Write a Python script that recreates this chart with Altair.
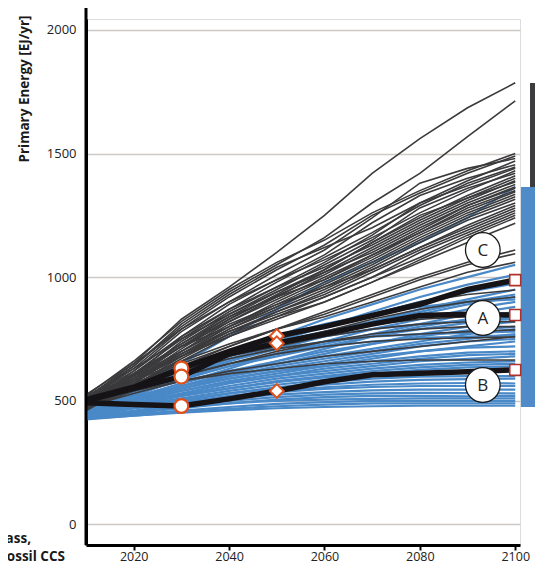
import altair as alt
import pandas as pd

years = [2010, 2020, 2030, 2040, 2050, 2060, 2070, 2080, 2090, 2100]

gray_lines = [
    [510, 650, 830, 960, 1100, 1250, 1420, 1560, 1685, 1786],
    [500, 640, 810, 940, 1050, 1160, 1300, 1420, 1568, 1713],
    [520, 660, 820, 950, 1060, 1150, 1260, 1350, 1430, 1500],
    [505, 630, 790, 920, 1030, 1130, 1250, 1340, 1420, 1490],
    [490, 620, 780, 900, 1010, 1110, 1240, 1380, 1440, 1480],
    [515, 640, 800, 930, 1040, 1120, 1200, 1300, 1390, 1470],
    [480, 600, 760, 890, 990, 1090, 1220, 1330, 1400, 1455],
    [500, 610, 750, 870, 980, 1080, 1180, 1290, 1380, 1445],
    [470, 590, 740, 860, 960, 1060, 1170, 1300, 1370, 1440],
    [525, 650, 790, 900, 990, 1070, 1160, 1260, 1350, 1430],
    [495, 605, 730, 850, 950, 1050, 1150, 1280, 1360, 1420],
    [485, 590, 720, 840, 940, 1030, 1140, 1240, 1330, 1410],
    [510, 620, 760, 870, 960, 1040, 1130, 1230, 1320, 1400],
    [460, 570, 700, 820, 920, 1020, 1120, 1220, 1310, 1390],
    [500, 600, 720, 830, 930, 1030, 1140, 1250, 1320, 1385],
    [475, 580, 710, 830, 925, 1010, 1110, 1210, 1300, 1375],
    [515, 630, 750, 850, 940, 1020, 1100, 1200, 1290, 1365],
    [490, 600, 720, 820, 910, 1000, 1090, 1190, 1290, 1360],
    [505, 610, 730, 840, 920, 990, 1080, 1180, 1280, 1350],
    [480, 570, 690, 800, 900, 990, 1090, 1180, 1270, 1345],
    [495, 590, 700, 810, 890, 980, 1070, 1170, 1260, 1335],
    [470, 560, 680, 790, 880, 970, 1060, 1160, 1250, 1325],
    [500, 600, 700, 800, 890, 960, 1050, 1150, 1240, 1315],
    [485, 580, 690, 790, 870, 950, 1040, 1140, 1230, 1300],
    [510, 610, 720, 800, 880, 960, 1030, 1120, 1210, 1290],
    [465, 560, 670, 770, 860, 940, 1030, 1120, 1200, 1280],
    [490, 580, 680, 780, 860, 930, 1020, 1110, 1190, 1270],
    [500, 590, 690, 780, 850, 920, 1000, 1100, 1180, 1260],
    [475, 560, 660, 760, 840, 920, 1000, 1080, 1170, 1250],
    [495, 580, 680, 770, 840, 900, 980, 1070, 1160, 1240],
    [505, 590, 680, 760, 830, 900, 980, 1060, 1140, 1218],
    [490, 570, 650, 720, 790, 860, 930, 1000, 1060, 1110],
    [470, 550, 640, 720, 790, 850, 920, 990, 1050, 1095],
    [500, 580, 660, 730, 790, 840, 900, 960, 1020, 1060],
    [495, 570, 640, 700, 750, 800, 850, 900, 930, 948],
    [480, 550, 620, 680, 730, 780, 830, 870, 900, 920],
    [505, 570, 630, 690, 740, 780, 810, 830, 840, 845],
    [490, 560, 620, 680, 720, 760, 790, 810, 820, 820],
    [470, 540, 600, 650, 700, 740, 770, 790, 800, 800],
    [500, 560, 620, 670, 710, 740, 760, 770, 780, 787],
    [485, 545, 600, 650, 690, 720, 740, 750, 755, 758],
    [475, 530, 580, 620, 650, 680, 700, 720, 740, 760],
    [495, 540, 580, 610, 630, 650, 660, 665, 665, 665],
]

blue_lines = [
    [470, 560, 650, 760, 870, 980, 1060, 1140, 1240, 1365],
    [455, 530, 610, 690, 760, 830, 890, 950, 1000, 1050],
    [470, 540, 610, 680, 740, 800, 860, 920, 970, 1010],
    [480, 550, 620, 690, 750, 800, 850, 900, 940, 975],
    [460, 520, 590, 660, 720, 770, 820, 870, 910, 950],
    [475, 540, 600, 660, 710, 760, 810, 850, 890, 920],
    [450, 510, 570, 630, 690, 740, 790, 830, 870, 900],
    [465, 525, 585, 640, 690, 730, 770, 810, 850, 880],
    [455, 510, 560, 610, 660, 710, 760, 800, 830, 860],
    [470, 530, 590, 640, 680, 720, 760, 790, 815, 840],
    [445, 500, 560, 610, 650, 690, 730, 770, 800, 820],
    [460, 515, 570, 620, 660, 700, 730, 760, 785, 800],
    [480, 530, 580, 620, 650, 680, 710, 740, 770, 790],
    [450, 500, 550, 600, 640, 670, 700, 730, 750, 770],
    [465, 510, 560, 600, 630, 660, 690, 720, 740, 750],
    [440, 490, 540, 580, 610, 640, 670, 700, 720, 740],
    [455, 500, 550, 590, 620, 650, 680, 700, 715, 720],
    [470, 510, 550, 590, 620, 640, 660, 680, 695, 700],
    [445, 490, 530, 570, 600, 630, 650, 670, 685, 690],
    [460, 500, 540, 575, 600, 620, 640, 660, 670, 680],
    [450, 490, 525, 560, 590, 610, 630, 645, 655, 660],
    [440, 480, 520, 550, 580, 600, 620, 635, 645, 650],
    [455, 490, 520, 550, 575, 595, 610, 625, 635, 640],
    [445, 480, 510, 540, 565, 585, 600, 610, 618, 620],
    [435, 470, 500, 530, 555, 575, 590, 598, 600, 600],
    [450, 480, 505, 530, 550, 565, 578, 585, 588, 590],
    [440, 470, 495, 520, 540, 555, 565, 570, 572, 570],
    [430, 460, 490, 515, 535, 548, 556, 560, 560, 560],
    [445, 470, 490, 510, 525, 535, 542, 545, 545, 545],
    [435, 460, 480, 500, 515, 525, 530, 532, 531, 530],
    [430, 450, 470, 490, 505, 515, 520, 520, 518, 520],
    [440, 455, 475, 490, 500, 505, 508, 510, 510, 510],
    [430, 445, 460, 475, 488, 495, 500, 500, 500, 500],
    [425, 440, 455, 468, 478, 485, 490, 490, 490, 490],
    [428, 440, 452, 462, 470, 475, 478, 480, 480, 480],
    [460, 530, 600, 670, 720, 760, 790, 810, 825, 830],
    [470, 540, 610, 670, 710, 740, 760, 770, 775, 780],
    [450, 520, 590, 650, 690, 720, 740, 755, 760, 765],
    [480, 560, 630, 690, 740, 780, 820, 860, 900, 930],
    [465, 540, 620, 700, 760, 810, 850, 880, 900, 910],
]

black_lines = [
    [505, 555, 631, 700, 762, 800, 845, 890, 950, 988],
    [500, 550, 598, 690, 733, 770, 810, 845, 850, 847],
    [492, 485, 479, 508, 540, 577, 605, 612, 618, 625],
]

circle_years = [2030, 2030, 2030]
circle_values = [631, 598, 479]
diamond_years = [2050, 2050, 2050]
diamond_values = [762, 733, 540]
square_years = [2100, 2100, 2100]
square_values = [988, 847, 625]

label_names = ["C", "A", "B"]
label_years = [2093.2, 2093.2, 2093.2]
label_values = [1110, 835, 564]

bar_names = ["gray", "blue"]
bar_x0 = [2103.1, 2101.2]
bar_x1 = [2106.5, 2104.95]
bar_low = [665, 475]
bar_high = [1785, 1365]

x_ticks = [2020, 2040, 2060, 2080, 2100]
y_ticks = [0, 500, 1000, 1500, 2000]

GRAY = "#3b3b3d"
BLUE = "#4a89c8"
BLACK = "#151316"
FONT = "Open Sans"

def long_df(lines, prefix):
    rows = []
    for i, vals in enumerate(lines):
        for yr, v in zip(years, vals):
            rows.append({"id": f"{prefix}{i}", "year": yr, "value": v})
    return pd.DataFrame(rows)

gray_df = long_df(gray_lines, "g")
blue_df = long_df(blue_lines, "b")
black_df = long_df(black_lines, "k")

xscale = alt.Scale(domain=[2010, 2101], nice=False, zero=False)
yscale = alt.Scale(domain=[-83, 2044], nice=False, zero=False)
xaxis = alt.Axis(values=x_ticks, title=None, grid=False, format="d",
                 domainColor="black", domainWidth=3, tickColor="black",
                 tickWidth=2, tickSize=5, labelPadding=0, labelFontSize=12.5,
                 labelFont=FONT, labelColor="#222222")
yaxis = alt.Axis(values=y_ticks, title=None, grid=True, gridColor="#cdcac6",
                 gridWidth=1.3, ticks=False, tickSize=0, domainColor="black",
                 domainWidth=3, labelPadding=10, labelFontSize=13, format="d",
                 labelFont=FONT, labelColor="#222222")

def X(field):
    return alt.X(field, type="quantitative", scale=xscale, axis=xaxis)

def Y(field):
    return alt.Y(field, type="quantitative", scale=yscale, axis=yaxis)

blue = alt.Chart(blue_df).mark_line(color=BLUE, strokeWidth=2.2).encode(
    x=X("year"), y=Y("value"), detail="id:N")
gray = alt.Chart(gray_df).mark_line(color=GRAY, strokeWidth=1.6).encode(
    x=X("year"), y=Y("value"), detail="id:N")
black = alt.Chart(black_df).mark_line(color=BLACK, strokeWidth=5.5).encode(
    x=X("year"), y=Y("value"), detail="id:N")

circ_df = pd.DataFrame({"year": circle_years, "value": circle_values})
diam_df = pd.DataFrame({"year": diamond_years, "value": diamond_values})
sq_df = pd.DataFrame({"year": square_years, "value": square_values})

circles = alt.Chart(circ_df).mark_point(shape="circle", filled=True, fill="white",
                                        stroke="#e0501c", strokeWidth=2.2, size=190, opacity=1).encode(
    x=X("year"), y=Y("value"))
diamonds = alt.Chart(diam_df).mark_point(shape="diamond", filled=True, fill="white",
                                         stroke="#e0501c", strokeWidth=2, size=190, opacity=1).encode(
    x=X("year"), y=Y("value"))
squares = alt.Chart(sq_df).mark_point(shape="square", filled=True, fill="white",
                                      stroke="#b0302a", strokeWidth=1.6, size=120, opacity=1).encode(
    x=X("year"), y=Y("value"))

lab_df = pd.DataFrame({"name": label_names, "year": label_years, "value": label_values})
lab_circles = alt.Chart(lab_df).mark_point(shape="circle", filled=True, fill="white",
                                           stroke="#1a1a1a", strokeWidth=1.3, size=1200, opacity=1).encode(
    x=X("year"), y=Y("value"))
lab_text = alt.Chart(lab_df).mark_text(fontSize=17, font=FONT, color="#222222", dy=1).encode(
    x=X("year"), y=Y("value"), text="name:N")

bar_df = pd.DataFrame({"name": bar_names, "x0": bar_x0, "x1": bar_x1,
                       "lo": bar_low, "hi": bar_high})
bars = alt.Chart(bar_df).mark_rect().encode(
    x=X("x0"), x2="x1", y=Y("lo"), y2="hi",
    color=alt.Color("name:N", scale=alt.Scale(domain=bar_names, range=["#3c3c3e", "#4e8bc8"]), legend=None),
    order=alt.Order("name:N", sort="descending"))

one = pd.DataFrame({"t": ["Primary Energy [EJ/yr]"]})
axis_ext = alt.Chart(one).mark_rule(color="black", strokeWidth=3).encode(
    x=alt.value(0), y=alt.value(-14), y2=alt.value(526))
ytitle = alt.Chart(one).mark_text(angle=270, font=FONT, fontSize=13.5, fontWeight="bold",
                                  color="#1a1a1a", baseline="middle", align="center").encode(
    x=alt.value(-61), y=alt.value(70), text="t:N")

side_df = pd.DataFrame({"t": ["Biomass,", "Fossil CCS"], "px": [-55, -21], "py": [524, 542]})
side = alt.Chart(side_df).mark_text(font=FONT, fontSize=13.5, fontWeight="bold", color="#1a1a1a",
                                    align="right", baseline="alphabetic").encode(
    x=alt.X("px:Q", scale=None), y=alt.Y("py:Q", scale=None), text="t:N")

chart = alt.layer(
    bars, blue, gray, black, circles, diamonds, squares, lab_circles, lab_text,
    axis_ext, ytitle, side
).properties(
    width=434, height=526,
    padding={"left": 78, "top": 11, "right": 15, "bottom": 19},
    autosize=alt.AutoSizeParams(type="none"),
).configure_view(fill="#fdf3e5", stroke=None).configure(background="white")

chart.save("out.html", embed_options={"renderer": "svg", "actions": False})
